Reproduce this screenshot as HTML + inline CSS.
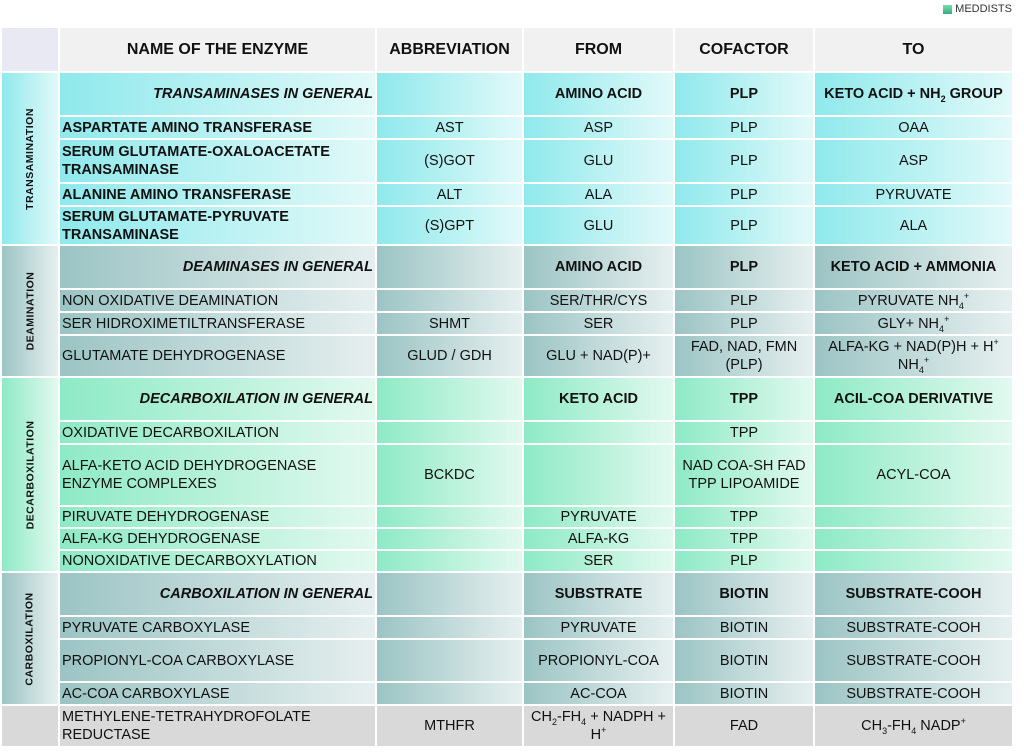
<!DOCTYPE html>
<html><head><meta charset="utf-8">
<style>
*{box-sizing:border-box;margin:0;padding:0}
body{width:1024px;height:754px;background:#fff;font-family:"Liberation Sans",sans-serif;color:#111;position:relative;overflow:hidden}
.logo{position:absolute;right:12px;top:3px;font-size:11px;color:#333;display:flex;align-items:center;gap:3px}
.logo i{display:inline-block;width:9px;height:9px;background:linear-gradient(#7fd9b0,#2fb07e)}
.grid{position:absolute;left:2px;top:28px;display:grid;grid-template-columns:56px 315px 145px 149px 138px 197px;
grid-template-rows:43px 42px 21px 42px 21px 37px 42px 21px 21px 40px 42px 21px 60px 20px 20px 20px 42px 21px 41px 21px 40px;gap:2px}
.grid>div{display:flex;align-items:center;justify-content:center;text-align:center;font-size:14.5px;line-height:18px;padding:0 2px;overflow:hidden;min-height:0}
.h{background:#f1f1f1;font-weight:bold;font-size:16px!important}
.h0{background:#e9e9f3}
.n{justify-content:flex-start!important;text-align:left!important}
.g{font-weight:bold;font-style:italic;justify-content:flex-end!important}
.b{font-weight:bold}
.t{background:linear-gradient(90deg,#8fe9ec,#e2f9f9)}
.d{background:linear-gradient(90deg,#9cc4c4,#e6efef)}
.x{background:linear-gradient(90deg,#8eeac6,#e2f9ef)}
.m{background:#d9d9d9}
.lab span{transform:rotate(-90deg);white-space:nowrap;font-weight:bold;font-size:10.5px;letter-spacing:.5px}
sub,sup{font-size:9px;line-height:0}
</style></head><body>
<div class="logo"><i></i>MEDDISTS</div>
<div class="grid">
<div class="h h0"></div>
<div class="h"><span>NAME OF THE ENZYME</span></div>
<div class="h"><span>ABBREVIATION</span></div>
<div class="h"><span>FROM</span></div>
<div class="h"><span>COFACTOR</span></div>
<div class="h"><span>TO</span></div>

<div class="t lab" style="grid-row:span 5"><span>TRANSAMINATION</span></div>
<div class="t g"><span>TRANSAMINASES IN GENERAL</span></div><div class="t"></div><div class="t b"><span>AMINO ACID</span></div><div class="t b"><span>PLP</span></div><div class="t b"><span>KETO ACID + NH<sub>2</sub> GROUP</span></div>
<div class="t n b"><span>ASPARTATE AMINO TRANSFERASE</span></div><div class="t"><span>AST</span></div><div class="t"><span>ASP</span></div><div class="t"><span>PLP</span></div><div class="t"><span>OAA</span></div>
<div class="t n b"><span>SERUM GLUTAMATE-OXALOACETATE TRANSAMINASE</span></div><div class="t"><span>(S)GOT</span></div><div class="t"><span>GLU</span></div><div class="t"><span>PLP</span></div><div class="t"><span>ASP</span></div>
<div class="t n b"><span>ALANINE AMINO TRANSFERASE</span></div><div class="t"><span>ALT</span></div><div class="t"><span>ALA</span></div><div class="t"><span>PLP</span></div><div class="t"><span>PYRUVATE</span></div>
<div class="t n b"><span>SERUM GLUTAMATE-PYRUVATE TRANSAMINASE</span></div><div class="t"><span>(S)GPT</span></div><div class="t"><span>GLU</span></div><div class="t"><span>PLP</span></div><div class="t"><span>ALA</span></div>

<div class="d lab" style="grid-row:span 4"><span>DEAMINATION</span></div>
<div class="d g"><span>DEAMINASES IN GENERAL</span></div><div class="d"></div><div class="d b"><span>AMINO ACID</span></div><div class="d b"><span>PLP</span></div><div class="d b"><span>KETO ACID + AMMONIA</span></div>
<div class="d n"><span>NON OXIDATIVE DEAMINATION</span></div><div class="d"></div><div class="d"><span>SER/THR/CYS</span></div><div class="d"><span>PLP</span></div><div class="d"><span>PYRUVATE NH<sub>4</sub><sup>+</sup></span></div>
<div class="d n"><span>SER HIDROXIMETILTRANSFERASE</span></div><div class="d"><span>SHMT</span></div><div class="d"><span>SER</span></div><div class="d"><span>PLP</span></div><div class="d"><span>GLY+ NH<sub>4</sub><sup>+</sup></span></div>
<div class="d n"><span>GLUTAMATE DEHYDROGENASE</span></div><div class="d"><span>GLUD / GDH</span></div><div class="d"><span>GLU + NAD(P)+</span></div><div class="d"><span>FAD, NAD, FMN (PLP)</span></div><div class="d"><span>ALFA-KG + NAD(P)H + H<sup>+</sup> NH<sub>4</sub><sup>+</sup></span></div>

<div class="x lab" style="grid-row:span 6"><span>DECARBOXILATION</span></div>
<div class="x g"><span>DECARBOXILATION IN GENERAL</span></div><div class="x"></div><div class="x b"><span>KETO ACID</span></div><div class="x b"><span>TPP</span></div><div class="x b"><span>ACIL-COA DERIVATIVE</span></div>
<div class="x n"><span>OXIDATIVE DECARBOXILATION</span></div><div class="x"></div><div class="x"></div><div class="x"><span>TPP</span></div><div class="x"></div>
<div class="x n"><span>ALFA-KETO ACID DEHYDROGENASE ENZYME COMPLEXES</span></div><div class="x"><span>BCKDC</span></div><div class="x"></div><div class="x"><span>NAD COA-SH FAD TPP LIPOAMIDE</span></div><div class="x"><span>ACYL-COA</span></div>
<div class="x n"><span>PIRUVATE DEHYDROGENASE</span></div><div class="x"></div><div class="x"><span>PYRUVATE</span></div><div class="x"><span>TPP</span></div><div class="x"></div>
<div class="x n"><span>ALFA-KG DEHYDROGENASE</span></div><div class="x"></div><div class="x"><span>ALFA-KG</span></div><div class="x"><span>TPP</span></div><div class="x"></div>
<div class="x n"><span>NONOXIDATIVE DECARBOXYLATION</span></div><div class="x"></div><div class="x"><span>SER</span></div><div class="x"><span>PLP</span></div><div class="x"></div>

<div class="d lab" style="grid-row:span 4"><span>CARBOXILATION</span></div>
<div class="d g"><span>CARBOXILATION IN GENERAL</span></div><div class="d"></div><div class="d b"><span>SUBSTRATE</span></div><div class="d b"><span>BIOTIN</span></div><div class="d b"><span>SUBSTRATE-COOH</span></div>
<div class="d n"><span>PYRUVATE CARBOXYLASE</span></div><div class="d"></div><div class="d"><span>PYRUVATE</span></div><div class="d"><span>BIOTIN</span></div><div class="d"><span>SUBSTRATE-COOH</span></div>
<div class="d n"><span>PROPIONYL-COA CARBOXYLASE</span></div><div class="d"></div><div class="d"><span>PROPIONYL-COA</span></div><div class="d"><span>BIOTIN</span></div><div class="d"><span>SUBSTRATE-COOH</span></div>
<div class="d n"><span>AC-COA CARBOXYLASE</span></div><div class="d"></div><div class="d"><span>AC-COA</span></div><div class="d"><span>BIOTIN</span></div><div class="d"><span>SUBSTRATE-COOH</span></div>

<div class="m"></div>
<div class="m n"><span>METHYLENE-TETRAHYDROFOLATE REDUCTASE</span></div><div class="m"><span>MTHFR</span></div><div class="m"><span>CH<sub>2</sub>-FH<sub>4</sub> + NADPH + H<sup>+</sup></span></div><div class="m"><span>FAD</span></div><div class="m"><span>CH<sub>3</sub>-FH<sub>4</sub> NADP<sup>+</sup></span></div>
</div>
</body></html>
